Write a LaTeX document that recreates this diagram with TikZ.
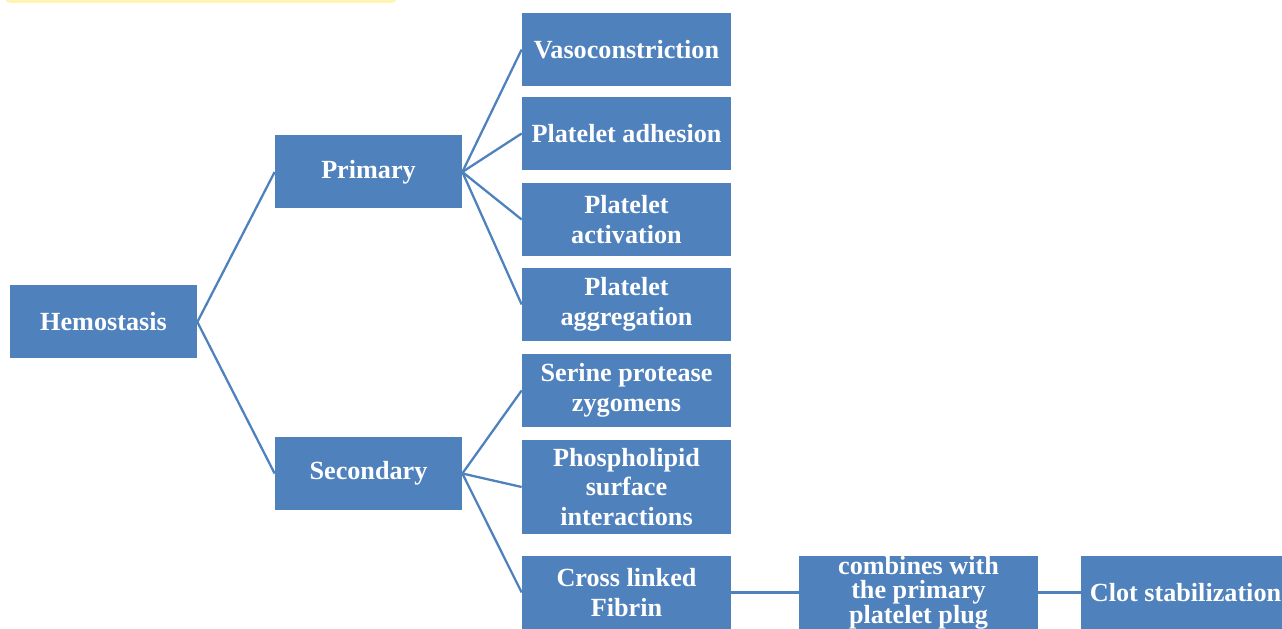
\documentclass[tikz,border=0pt]{standalone}
\usepackage{fontspec}
\setmainfont{Liberation Serif}
\usepackage{tikz}
\usetikzlibrary{positioning, calc}
\usepackage{xcolor}
\definecolor{boxblue}{RGB}{79,129,189}
\definecolor{noteyellow}{RGB}{255,244,178}
\tikzset{
  basebox/.style={
    rectangle, fill=boxblue, draw=none, align=center, text=white,
    font=\fontsize{14.9}{16.8}\selectfont\bfseries, inner sep=2pt
  },
  rootbox/.style={basebox, minimum width=3.74cm, minimum height=1.46cm},
  leafbox/.style={basebox, minimum width=4.18cm, minimum height=1.46cm},
  widebox/.style={basebox, minimum width=4.78cm, minimum height=1.46cm,
    inner ysep=-2.5pt, font=\fontsize{14.9}{14}\selectfont\bfseries},
  link/.style={draw=boxblue, line width=1.3pt}
}

\begin{document}
\begin{tikzpicture}
  \useasboundingbox (0,0) rectangle (25.64,12.56);
  \begin{scope}
    \clip (0,0) rectangle (25.64,12.56);
    \fill[noteyellow, rounded corners=3pt] (0.1,12.50) rectangle (7.94,13.2);
  \end{scope}

  \node[rootbox] (hemo) at (2.07,6.12) {Hemostasis};
  \node[rootbox] (prim) at (7.37,9.12) {Primary};
  \node[rootbox] (sec) at (7.37,3.09) {Secondary};

  \node[leafbox] (vaso) at (12.53,11.57) {Vasoconstriction};
  \node[leafbox] (adh) at (12.53,9.89) {Platelet adhesion};
  \node[leafbox] (act) at (12.53,8.17) {Platelet\\activation};
  \node[leafbox] (agg) at (12.53,6.47) {Platelet\\aggregation};
  \node[leafbox] (ser) at (12.53,4.75) {Serine protease\\zygomens};
  \node[leafbox,minimum height=1.88cm] (phos) at (12.53,2.82) {Phospholipid\\surface\\interactions};
  \node[leafbox] (fib) at (12.53,0.71) {Cross linked\\Fibrin};
  \node[widebox] (comb) at (18.37,0.71) {combines with\\the primary\\platelet plug};
  \node[leafbox] (clot) at (23.71,0.71) {Clot stabilization};

  \draw[link] (hemo.east)--(prim.west); \draw[link] (hemo.east)--(sec.west);
  \foreach \t in {vaso,adh,act,agg} \draw[link] (prim.east)--(\t.west);
  \foreach \t in {ser,phos,fib} \draw[link] (sec.east)--(\t.west);
  \draw[link] (fib)--(comb); \draw[link] (comb)--(clot);
\end{tikzpicture}
\end{document}
